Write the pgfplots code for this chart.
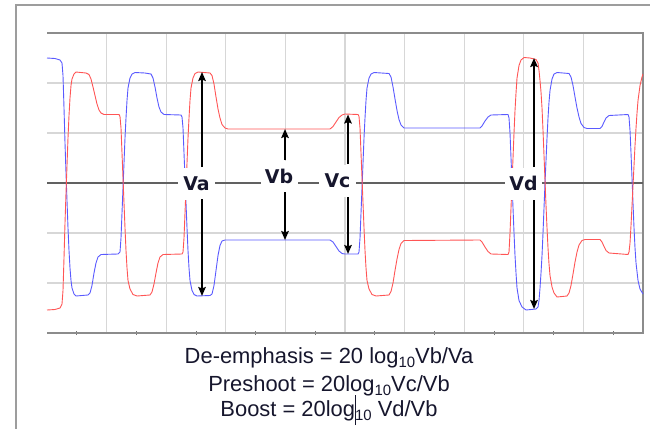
\documentclass[border=0pt]{standalone}
\usepackage{fontspec}
\setmainfont{Liberation Sans}
\newfontfamily\labelfont{DejaVu Sans}
\usepackage{pgfplots}
\pgfplotsset{compat=1.18}
\usetikzlibrary{arrows.meta}

\definecolor{traceR}{RGB}{255,85,85}
\definecolor{traceB}{RGB}{90,90,255}
\definecolor{gridc}{RGB}{215,215,215}
\definecolor{framec}{RGB}{140,140,140}
\definecolor{inkc}{RGB}{22,22,45}

\newcommand\sub[1]{\raisebox{-4bp}{\fontsize{15}{15}\selectfont #1}}

\begin{document}
\begin{tikzpicture}[x=1bp,y=1bp]
\useasboundingbox (0,0) rectangle (650,428);
% outer frame (only top and left edges inside the page)
\draw[framec!85!white, line width=1.6bp] (16,-2) -- (16,423) -- (652,423);

\begin{axis}[
  at={(47bp,95bp)}, anchor=south west,
  scale only axis, width=596bp, height=300bp,
  xmin=0, xmax=596, ymin=-3, ymax=3,
  clip=false,
  axis line style={draw=none},
  xtick={59.6,119.2,178.8,238.4,298,357.6,417.2,476.8,536.4},
  ytick={-2,-1,1,2},
  xticklabels={}, yticklabels={},
  major tick length=0pt,
  minor xtick={29.8,89.4,149,208.6,268.2,327.8,387.4,447,506.6,566.2},
  minor tick length=4bp, tick align=center, xtick pos=left, ytick pos=left,
  minor tick style={draw=black!55, line width=0.8bp},
  grid=major,
  major grid style={draw=gridc, line width=1.3bp},
]
% scope frame and centre line
\draw[framec, line width=1.5bp] (axis cs:0,3) -- (axis cs:596,3) -- (axis cs:596,-3) -- (axis cs:0,-3);
\draw[black!62, line width=1.3bp] (axis cs:0,0) -- (axis cs:596,0);

% negative leg
\addplot[traceB, line width=0.9bp] coordinates {
(0,2.50) (8,2.49) (13,2.46) (15,2.40) (16,2.15) (17,1.5) (18,0.8) (19,0.2) (20,-0.35)
(21,-0.9) (22,-1.35) (23,-1.7) (24,-1.95) (25,-2.1) (27,-2.22) (29,-2.26) (41,-2.24)
(43,-2.20) (45,-2.05) (47,-1.80) (49,-1.60) (51,-1.48) (54,-1.43) (71,-1.42) (73,-1.38)
(74,-1.1) (75,-0.6) (76,-0.1) (77,0.4) (78,0.9) (79,1.3) (80,1.65) (81,1.9) (83,2.1)
(85,2.18) (88,2.21) (98,2.20) (104,2.18) (106,2.10) (108,1.92) (110,1.70) (112,1.52)
(114,1.42) (117,1.37) (134,1.36) (135,1.32) (136,1.1) (137,0.6) (138,0.1) (139,-0.4)
(140,-0.9) (141,-1.35) (142,-1.7) (143,-1.95) (145,-2.15) (147,-2.23) (150,-2.26)
(163,-2.25) (165,-2.22) (167,-2.05) (169,-1.75) (171,-1.45) (173,-1.25) (175,-1.16)
(178,-1.14) (283,-1.14) (286,-1.18) (289,-1.27) (292,-1.36) (295,-1.41) (298,-1.42)
(311,-1.42) (312,-1.38) (313,-1.1) (314,-0.6) (315,-0.1) (316,0.4) (317,0.9) (318,1.3)
(319,1.65) (320,1.9) (322,2.1) (324,2.18) (327,2.21) (342,2.19) (344,2.12) (346,1.92)
(348,1.68) (350,1.45) (352,1.27) (354,1.16) (357,1.10) (433,1.10) (435,1.14) (438,1.24)
(441,1.32) (444,1.36) (461,1.37) (462,1.30) (463,1.0) (464,0.5) (465,0.0) (466,-0.5)
(467,-1.0) (468,-1.45) (469,-1.8) (470,-2.1) (472,-2.35) (475,-2.48) (479,-2.54)
(489,-2.52) (491,-2.48) (492,-2.35) (493,-2.1) (494,-1.8) (495,-1.45) (496,-1.0)
(497,-0.5) (498,0.0) (499,0.45) (500,0.9) (501,1.3) (502,1.62) (503,1.85) (505,2.08)
(507,2.18) (510,2.21) (522,2.19) (524,2.12) (526,1.95) (528,1.72) (530,1.50) (532,1.32)
(534,1.19) (537,1.11) (540,1.09) (553,1.09) (555,1.13) (557,1.22) (559,1.30) (562,1.35)
(581,1.37) (582,1.32) (583,1.05) (584,0.6) (585,0.1) (586,-0.4) (587,-0.9) (588,-1.3)
(589,-1.6) (591,-1.95) (593,-2.12) (596,-2.22)
};

% positive leg
\addplot[traceR, line width=0.9bp] coordinates {
(0,-2.54) (8,-2.53) (13,-2.50) (15,-2.42) (16,-2.15) (17,-1.5) (18,-0.8) (19,-0.2)
(20,0.35) (21,0.9) (22,1.35) (23,1.7) (24,1.95) (25,2.08) (27,2.18) (29,2.22) (39,2.20)
(42,2.17) (44,2.08) (46,1.92) (48,1.75) (50,1.58) (52,1.46) (54,1.40) (57,1.37) (72,1.37)
(73,1.33) (74,1.1) (75,0.6) (76,0.1) (77,-0.4) (78,-0.9) (79,-1.35) (80,-1.7) (81,-1.95)
(83,-2.12) (86,-2.23) (90,-2.26) (103,-2.24) (105,-2.18) (107,-2.02) (109,-1.80)
(111,-1.60) (113,-1.48) (116,-1.43) (135,-1.42) (136,-1.38) (137,-1.1) (138,-0.6)
(139,-0.1) (140,0.4) (141,0.9) (142,1.3) (143,1.65) (144,1.9) (146,2.1) (148,2.19)
(151,2.22) (163,2.20) (165,2.15) (167,1.98) (169,1.72) (171,1.48) (173,1.30) (175,1.17)
(178,1.10) (181,1.08) (283,1.08) (286,1.13) (289,1.22) (292,1.31) (295,1.36) (298,1.38)
(311,1.37) (312,1.33) (313,1.1) (314,0.6) (315,0.1) (316,-0.4) (317,-0.9) (318,-1.35)
(319,-1.7) (320,-1.95) (322,-2.12) (325,-2.23) (329,-2.26) (342,-2.24) (344,-2.17)
(346,-2.0) (348,-1.75) (350,-1.52) (352,-1.33) (354,-1.21) (357,-1.15) (433,-1.14)
(435,-1.18) (438,-1.28) (441,-1.37) (444,-1.42) (461,-1.43) (462,-1.38) (463,-1.0)
(464,-0.5) (465,0.0) (466,0.5) (467,1.0) (468,1.45) (469,1.8) (470,2.1) (472,2.35)
(474,2.46) (477,2.51) (483,2.50) (489,2.47) (491,2.40) (492,2.25) (493,2.05) (494,1.82)
(495,1.5) (496,1.05) (497,0.55) (498,0.05) (499,-0.45) (500,-0.9) (501,-1.3) (502,-1.62)
(503,-1.85) (505,-2.08) (507,-2.2) (510,-2.28) (520,-2.26) (522,-2.2) (524,-2.05)
(526,-1.82) (528,-1.58) (530,-1.38) (532,-1.24) (535,-1.15) (538,-1.13) (553,-1.13)
(555,-1.18) (557,-1.27) (559,-1.35) (562,-1.40) (581,-1.43) (582,-1.38) (583,-1.2)
(584,-0.85) (585,-0.45) (586,-0.05) (587,0.35) (588,0.75) (589,1.1) (590,1.4) (591,1.65)
(593,1.95) (595,2.12) (596,2.18)
};

% level labels
\tikzset{lvl/.style={fill=white, inner sep=0pt, minimum width=37bp, minimum height=32bp,
  text=inkc, font=\labelfont\bfseries\fontsize{19}{19}\selectfont}}
\node[lvl] at (axis cs:149.5,-0.02) {Va};
\node[lvl] at (axis cs:232,0.13) {Vb};
\node[lvl] at (axis cs:290.5,0.05) {Vc};
\node[lvl] at (axis cs:476.5,-0.01) {Vd};

% measurement arrows
\tikzset{meas/.style={black, line width=2bp, -{Stealth[length=9bp,width=7.5bp,inset=1.5bp]}}}
\draw[meas] (axis cs:155,0.32) -- (axis cs:155,2.22);
\draw[meas] (axis cs:155,-0.32) -- (axis cs:155,-2.26);
\draw[meas] (axis cs:238,0.46) -- (axis cs:238,1.08);
\draw[meas] (axis cs:238,-0.18) -- (axis cs:238,-1.14);
\draw[meas] (axis cs:301,0.38) -- (axis cs:301,1.37);
\draw[meas] (axis cs:301,-0.28) -- (axis cs:301,-1.42);
\draw[meas] (axis cs:487,0.32) -- (axis cs:487,2.50);
\draw[meas] (axis cs:487,-0.34) -- (axis cs:487,-2.52);
\end{axis}

% formulas under the plot
\begin{scope}[every node/.style={anchor=base, text=inkc, inner sep=0pt,
    font=\fontsize{22}{26}\selectfont}]
\node at (329,65) {De-emphasis = 20 log\sub{10}Vb/Va};
\node at (329,37) {Preshoot = 20log\sub{10}Vc/Vb};
\node at (329,12) {Boost = 20log\makebox[0pt]{\rule[-9bp]{0.9bp}{30bp}}\sub{10} Vd/Vb};
\end{scope}
\end{tikzpicture}
\end{document}
